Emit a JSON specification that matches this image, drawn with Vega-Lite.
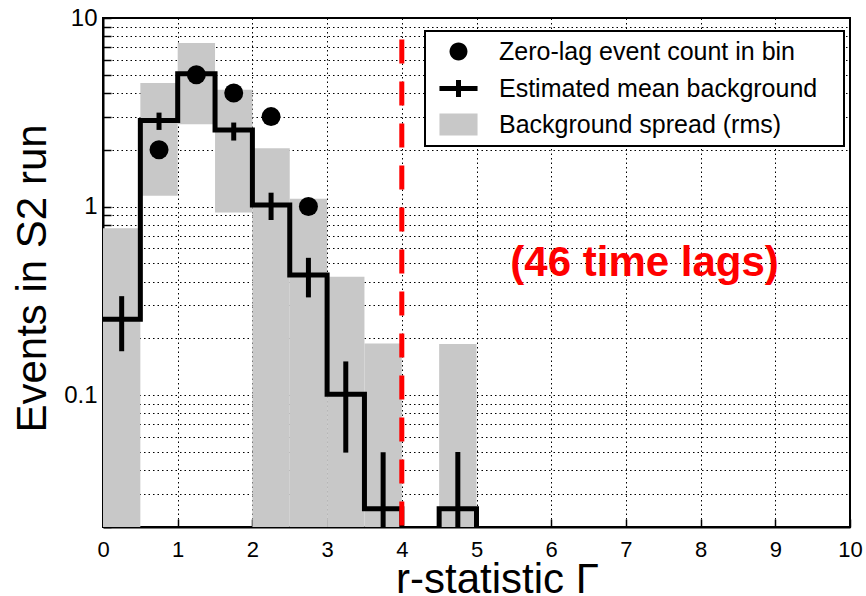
{
  "$schema": "https://vega.github.io/schema/vega-lite/v6.json",
  "width": 747,
  "height": 509,
  "autosize": "none",
  "padding": {"left": 103, "top": 18, "right": 16, "bottom": 69},
  "background": "white",
  "config": {
    "font": "Liberation Sans",
    "view": {"stroke": "black", "strokeWidth": 2},
    "legend": {"strokeWidth": 2},
    "axis": {
      "domainColor": "black",
      "domainWidth": 2,
      "tickColor": "black",
      "tickWidth": 1.5,
      "tickSize": -8,
      "grid": true,
      "gridColor": "black",
      "gridDash": [1.5, 3],
      "gridWidth": 1,
      "gridOpacity": 1,
      "labelColor": "black",
      "titleColor": "black",
      "titleFontWeight": "normal",
      "labelFlush": false,
      "labelOverlap": false
    }
  },
  "datasets": {
    "bins": [
      {"x_lo": 0, "x_hi": 0.5, "mid": 0.25, "err_lo": 0.171, "err_hi": 0.335, "spread_lo": 0.001, "spread_hi": 0.767, "zero_lag": null},
      {"x_lo": 0.5, "x_hi": 1, "mid": 0.75, "err_lo": 2.55, "err_hi": 3.15, "spread_lo": 1.14, "spread_hi": 4.52, "zero_lag": 2},
      {"x_lo": 1, "x_hi": 1.5, "mid": 1.25, "err_lo": 4.7, "err_hi": 5.45, "spread_lo": 2.73, "spread_hi": 7.36, "zero_lag": 5},
      {"x_lo": 1.5, "x_hi": 2, "mid": 1.75, "err_lo": 2.24, "err_hi": 2.79, "spread_lo": 0.93, "spread_hi": 4.16, "zero_lag": 4},
      {"x_lo": 2, "x_hi": 2.5, "mid": 2.25, "err_lo": 0.849, "err_hi": 1.185, "spread_lo": 0.001, "spread_hi": 2.04, "zero_lag": 3},
      {"x_lo": 2.5, "x_hi": 3, "mid": 2.75, "err_lo": 0.33, "err_hi": 0.535, "spread_lo": 0.001, "spread_hi": 1.1, "zero_lag": 1},
      {"x_lo": 3, "x_hi": 3.5, "mid": 3.25, "err_lo": 0.0496, "err_hi": 0.151, "spread_lo": 0.001, "spread_hi": 0.425, "zero_lag": null},
      {"x_lo": 3.5, "x_hi": 4, "mid": 3.75, "err_lo": 0.001, "err_hi": 0.0498, "spread_lo": 0.001, "spread_hi": 0.188, "zero_lag": null},
      {"x_lo": 4, "x_hi": 4.5, "mid": 4.25, "err_lo": null, "err_hi": null, "spread_lo": null, "spread_hi": null, "zero_lag": null},
      {"x_lo": 4.5, "x_hi": 5, "mid": 4.75, "err_lo": 0.001, "err_hi": 0.05, "spread_lo": 0.001, "spread_hi": 0.187, "zero_lag": null}
    ],
    "steps": [
      {"edge": 0, "level": 0.253},
      {"edge": 0.5, "level": 2.86},
      {"edge": 1, "level": 5.06},
      {"edge": 1.5, "level": 2.55},
      {"edge": 2, "level": 1.02},
      {"edge": 2.5, "level": 0.434},
      {"edge": 3, "level": 0.101},
      {"edge": 3.5, "level": 0.025},
      {"edge": 4, "level": 0.001},
      {"edge": 4.5, "level": 0.025},
      {"edge": 5, "level": 0.001}
    ],
    "threshold": [{"gamma": 4, "top": 7.7, "bottom": 0.001}],
    "note": [{"gamma": 7.25, "events": 0.43, "text": "(46 time lags)"}]
  },
  "layer": [
    {
      "data": {"name": "bins"},
      "transform": [{"filter": "datum.spread_hi != null"}],
      "mark": {"type": "rect", "clip": true},
      "encoding": {
        "x": {
          "field": "x_lo",
          "type": "quantitative",
          "scale": {"domain": [0, 10], "nice": false},
          "axis": {
            "title": "r-statistic Γ",
            "values": [0, 1, 2, 3, 4, 5, 6, 7, 8, 9, 10],
            "format": "d",
            "labelFontSize": 22,
            "labelPadding": 20,
            "titleFontSize": 42,
            "titleX": 394,
            "titleY": 65,
            "titleAlign": "center",
            "titleBaseline": "alphabetic"
          }
        },
        "x2": {"field": "x_hi"},
        "y": {
          "field": "spread_hi",
          "type": "quantitative",
          "scale": {"type": "log", "domain": [0.02, 10], "nice": false},
          "axis": {
            "title": "Events in S2 run",
            "values": [0.02, 0.03, 0.04, 0.05, 0.06, 0.07, 0.08, 0.09, 0.1, 0.2, 0.3, 0.4, 0.5, 0.6, 0.7, 0.8, 0.9, 1, 2, 3, 4, 5, 6, 7, 8, 9, 10],
            "labelExpr": "datum.value == 0.1 ? '0.1' : datum.value == 1 ? '1' : datum.value == 10 ? '10' : ''",
            "labelFontSize": 24,
            "labelPadding": 14,
            "titleFontSize": 42,
            "titleX": -58,
            "titleY": 260,
            "titleBaseline": "alphabetic"
          }
        },
        "y2": {"field": "spread_lo"},
        "color": {
          "datum": "Background spread (rms)",
          "type": "nominal",
          "scale": {
            "domain": ["Zero-lag event count in bin", "Estimated mean background", "Background spread (rms)"],
            "range": ["black", "black", "#c8c8c8"]
          },
          "legend": {
            "orient": "none",
            "legendX": 322,
            "legendY": 13,
            "title": null,
            "direction": "vertical",
            "padding": 8,
            "fillColor": "white",
            "strokeColor": "black",
            "labelFont": "Liberation Sans",
            "labelFontSize": 25,
            "labelColor": "black",
            "labelLimit": 0,
            "labelExpr": "datum.label + '\u2800'",
            "symbolSize": 1024,
            "symbolOffset": 13,
            "labelOffset": 28,
            "rowPadding": 5,
            "encode": {
              "symbols": {
                "update": {
                  "shape": {"signal": "datum.value === 'Estimated mean background' ? 'M-1.19,0H1.19M0,-0.53V0.53' : datum.value === 'Background spread (rms)' ? 'M-1.19,-0.69H1.19V0.69H-1.19Z' : 'M-0.56,0A0.56,0.56 0 1,0 0.56,0A0.56,0.56 0 1,0 -0.56,0Z'"},
                  "stroke": {"value": "black"},
                  "strokeWidth": {"signal": "datum.value === 'Estimated mean background' ? 5 : 0"},
                  "opacity": {"value": 1},
                  "fillOpacity": {"value": 1}
                }
              }
            }
          }
        }
      }
    },
    {
      "data": {"name": "steps"},
      "mark": {"type": "line", "interpolate": "step-after", "strokeWidth": 5, "strokeJoin": "miter", "clip": true},
      "encoding": {
        "x": {"field": "edge", "type": "quantitative"},
        "y": {"field": "level", "type": "quantitative"},
        "color": {"datum": "Estimated mean background", "type": "nominal"}
      }
    },
    {
      "data": {"name": "bins"},
      "transform": [{"filter": "datum.err_hi != null"}],
      "mark": {"type": "rule", "strokeWidth": 5, "color": "black", "clip": true},
      "encoding": {
        "x": {"field": "mid", "type": "quantitative"},
        "y": {"field": "err_lo", "type": "quantitative"},
        "y2": {"field": "err_hi"}
      }
    },
    {
      "data": {"name": "bins"},
      "transform": [{"filter": "datum.zero_lag != null"}],
      "mark": {"type": "point", "shape": "circle", "filled": true, "size": 361, "opacity": 1},
      "encoding": {
        "x": {"field": "mid", "type": "quantitative"},
        "y": {"field": "zero_lag", "type": "quantitative"},
        "color": {"datum": "Zero-lag event count in bin", "type": "nominal"}
      }
    },
    {
      "data": {"name": "threshold"},
      "mark": {"type": "rule", "color": "#ff0000", "strokeWidth": 5, "strokeDash": [24, 18], "clip": true},
      "encoding": {
        "x": {"field": "gamma", "type": "quantitative"},
        "y": {"field": "top", "type": "quantitative"},
        "y2": {"field": "bottom"}
      }
    },
    {
      "data": {"name": "note"},
      "mark": {"type": "text", "font": "Liberation Sans", "fontSize": 42, "fontWeight": "bold", "color": "#ff0000", "align": "center", "baseline": "alphabetic"},
      "encoding": {
        "x": {"field": "gamma", "type": "quantitative"},
        "y": {"field": "events", "type": "quantitative"},
        "text": {"field": "text"}
      }
    }
  ]
}
